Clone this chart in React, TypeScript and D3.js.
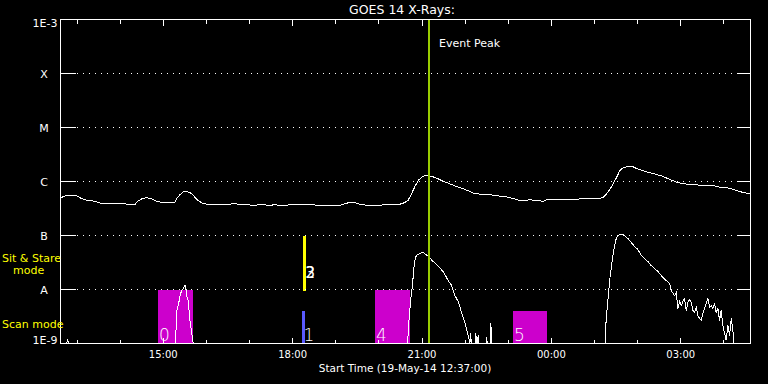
import React from "react";
import * as d3 from "d3";

// ---------- data ----------
const startISO = "2014-05-19T12:37";
const spanHours = 16;

const yLevels = [1e-3, 1e-4, 1e-5, 1e-6, 1e-7, 1e-8, 1e-9];
const yLabels = ["1E-3", "X", "M", "C", "B", "A", "1E-9"];

// GOES long channel (1-8 A), minutes after start, flux W/m^2
const longMinutes = [
  0, 8.5, 22.4, 29.4, 36.3, 47.9, 57.2, 89.6, 93.8, 103.5, 107.7, 113.3, 119.8, 126.7, 133.7,
  140.7, 149.4, 154.6, 159.2, 161.5, 166.1, 170.7, 177.7, 182.4, 187.0, 191.6, 198.5, 207.9,
  232.9, 238.1, 245.0, 249.6, 261.1, 265.9, 284.4, 289.0, 298.3, 307.6, 326.1, 333.1, 347.0,
  365.1, 388.8, 400.3, 409.6, 416.6, 425.9, 446.7, 449.0, 472.2, 479.2, 483.8, 488.5, 493.1,
  497.7, 502.4, 507.0, 511.6, 518.5, 525.5, 532.4, 541.8, 551.1, 560.3, 569.6, 576.6, 597.4,
  606.8, 620.7, 629.8, 639.2, 653.1, 671.6, 676.3, 694.8, 708.7, 736.6, 748.1, 755.1, 759.8,
  764.4, 769.0, 773.7, 778.3, 782.9, 787.6, 796.8, 801.6, 810.7, 820.0, 829.4, 838.5, 847.9,
  857.2, 866.4, 875.7, 889.6, 908.1, 917.4, 931.3, 940.7, 949.9, 960,
];
const longFlux = [
  5.0e-7, 5.5e-7, 5.5e-7, 4.8e-7, 4.5e-7, 4.3e-7, 3.9e-7, 3.9e-7, 3.75e-7, 3.75e-7, 4.3e-7,
  4.8e-7, 5.0e-7, 4.8e-7, 4.3e-7, 4.1e-7, 4.15e-7, 4.05e-7, 4.1e-7, 4.8e-7, 5.7e-7, 6.4e-7,
  6.4e-7, 6.0e-7, 5.1e-7, 4.45e-7, 3.9e-7, 3.75e-7, 3.75e-7, 3.86e-7, 3.86e-7, 3.71e-7,
  3.71e-7, 3.64e-7, 3.71e-7, 3.6e-7, 3.71e-7, 3.6e-7, 3.75e-7, 3.71e-7, 3.71e-7, 3.6e-7,
  3.6e-7, 4.04e-7, 4.04e-7, 3.8e-7, 3.64e-7, 3.64e-7, 3.8e-7, 3.8e-7, 4.08e-7, 4.51e-7,
  6.0e-7, 8.07e-7, 1.045e-6, 1.2e-6, 1.28e-6, 1.28e-6, 1.22e-6, 1.12e-6, 1.01e-6, 9.05e-7,
  8.07e-7, 7.33e-7, 6.53e-7, 5.92e-7, 5.74e-7, 5.43e-7, 5.21e-7, 4.84e-7, 4.4e-7, 4.58e-7,
  4.31e-7, 4.58e-7, 4.58e-7, 4.7e-7, 4.79e-7, 4.79e-7, 5.06e-7, 5.92e-7, 7.11e-7, 9.18e-7,
  1.19e-6, 1.6e-6, 1.8e-6, 1.87e-6, 1.87e-6, 1.74e-6, 1.58e-6, 1.45e-6, 1.35e-6, 1.24e-6,
  1.09e-6, 9.7e-7, 9.05e-7, 8.91e-7, 8.53e-7, 8.43e-7, 7.83e-7, 7.52e-7, 6.81e-7, 6.25e-7,
  5.92e-7,
];

// GOES short channel (0.5-4 A)
const shortMinutes = [
  0, 8.5, 9.9, 11.3, 160.1, 161.5, 164.7, 166.1, 168.5, 170.7, 173.1, 174.5, 175.4, 177.7,
  180.0, 182.4, 184.6, 482.9, 484.7, 487.1, 488.9, 490.7, 492.1, 493.5, 495.4, 499.1, 503.8,
  507.0, 511.6, 518.5, 525.5, 532.4, 539.4, 544.1, 548.7, 553.3, 558.0, 562.6, 567.2, 569.6,
  570.6, 571.6, 577.0, 577.9, 578.8, 580.2, 581.1, 582.0, 591.9, 592.8, 593.7, 597.9, 598.8,
  599.7, 757.8, 759.2, 761.6, 764.0, 766.2, 768.6, 770.9, 773.2, 775.5, 780.1, 784.8, 789.4,
  794.0, 798.8, 803.3, 807.9, 812.7, 817.2, 821.8, 826.6, 831.2, 838.1, 842.7, 847.4, 849.7,
  854.4, 856.6, 859.0, 861.4, 863.6, 866.0, 868.3, 870.5, 872.9, 875.3, 877.5, 879.9, 882.2,
  884.5, 886.8, 889.2, 891.4, 893.8, 896.1, 900.7, 903.1, 905.3, 907.7, 910.0, 912.3, 914.6,
  917.0, 919.2, 921.6, 924.0, 926.2, 928.6, 930.9, 933.2, 935.5, 936.9, 960,
];
const shortFlux = [
  6e-10, 6e-10, 1.19e-9, 6e-10, 6e-10, 3.8e-9, 5.8e-9, 7.4e-9, 9.6e-9, 1.04e-8, 1.19e-8,
  1.09e-8, 7.7e-9, 6.3e-9, 2.7e-9, 1.6e-9, 6e-10, 6e-10, 2.5e-9, 6.3e-9, 9.6e-9, 1.74e-8,
  2.8e-8, 3.75e-8, 4.3e-8, 4.6e-8, 4.9e-8, 4.6e-8, 4.1e-8, 3.3e-8, 2.7e-8, 2.15e-8, 1.47e-8,
  1.19e-8, 7.7e-9, 6.0e-9, 3.75e-9, 2.45e-9, 1.41e-9, 6e-10, 1.53e-9, 6e-10, 6e-10, 1.53e-9,
  6e-10, 6e-10, 1.41e-9, 6e-10, 6e-10, 1.29e-9, 6e-10, 6e-10, 2.35e-9, 6e-10, 6e-10, 2.9e-9,
  6.25e-9, 1.47e-8, 2.45e-8, 4.27e-8, 6.53e-8, 8.79e-8, 1.0e-7, 1.07e-7, 1.0e-7, 8.79e-8,
  7.41e-8, 6.25e-8, 5.51e-8, 4.27e-8, 3.75e-8, 3.3e-8, 2.78e-8, 2.45e-8, 2.15e-8, 1.67e-8,
  1.47e-8, 1.29e-8, 9.57e-9, 7.74e-9, 8.79e-9, 4.45e-9, 6.0e-9, 5.06e-9, 6.0e-9, 6.81e-9,
  4.08e-9, 5.74e-9, 6.53e-9, 5.74e-9, 4.08e-9, 3.75e-9, 4.64e-9, 3.3e-9, 2.9e-9, 2.67e-9,
  3.6e-9, 4.45e-9, 6.81e-9, 4.64e-9, 5.06e-9, 4.45e-9, 5.51e-9, 3.75e-9, 4.45e-9, 2.67e-9,
  4.08e-9, 2.15e-9, 1.53e-9, 1.14e-9, 2.15e-9, 1.41e-9, 2.9e-9, 1.74e-9, 6e-10, 6e-10,
];

// Scan mode observation bars
const scanLabels = ["0", "1", "4", "5"];
const scanKinds = ["raster", "single", "raster", "raster"];
const scanStart = ["2014-05-19T14:52", "2014-05-19T18:13", "2014-05-19T19:54", "2014-05-19T23:06"];
const scanEnd = ["2014-05-19T15:42", "2014-05-19T18:17", "2014-05-19T20:43", "2014-05-19T23:54"];
const scanTop = [1e-8, 4.08e-9, 1e-8, 4.08e-9];

// Sit & stare bars
const ssLabels = ["2", "3"];
const ssStart = ["2014-05-19T18:15", "2014-05-19T18:15"];
const ssEnd = ["2014-05-19T18:18", "2014-05-19T18:19"];
const ssTop = [1e-7, 4.08e-8];
const ssBase = 1e-8;

const eventPeak = "2014-05-19T21:09";
const titleText = "GOES 14 X-Rays:";
const xTitle = "Start Time (19-May-14 12:37:00)";

// ---------- chart ----------
const W = 768;
const H = 384;
const L = 60.5, R = 750.5, T = 19.5, B = 343.5;
const FONT = "DejaVu Sans, sans-serif";

const parse = d3.utcParse("%Y-%m-%dT%H:%M");

export default function App() {
  const t0 = parse(startISO) as Date;
  const t1 = d3.utcHour.offset(t0, spanHours);
  const x = d3.scaleUtc().domain([t0, t1]).range([L, R]);
  const y = d3.scaleLog().domain([1e-9, 1e-3]).range([B, T]).clamp(true);
  const tm = (m: number) => new Date(t0.getTime() + m * 60000);

  const longData = longMinutes.map((m, i) => [tm(m), longFlux[i]] as [Date, number]);
  const shortData = shortMinutes.map((m, i) => [tm(m), shortFlux[i]] as [Date, number]);
  const line = d3
    .line<[Date, number]>()
    .x((d) => x(d[0]))
    .y((d) => y(d[1]));

  const minorTicks = d3.utcHour.range(d3.utcHour.ceil(t0), t1);
  const majorTicks = minorTicks.filter((d) => d.getUTCHours() % 3 === 0);
  const fmt = d3.utcFormat("%H:%M");

  const magenta = "#cc00cc";
  const blue = "#5a5aff";
  const yellow = "#ffff00";
  const green = "#99cc00";
  const px = x(parse(eventPeak) as Date);

  return (
    <svg
      width={W}
      height={H}
      style={{ position: "absolute", left: 0, top: 0, display: "block" }}
      fontFamily={FONT}
    >
      <rect x={0} y={0} width={W} height={H} fill="#000" />

      {/* bars */}
      {scanLabels.map((lab, i) => {
        const x0 = x(parse(scanStart[i]) as Date);
        const x1 = x(parse(scanEnd[i]) as Date);
        const yt = y(scanTop[i]);
        return (
          <rect
            key={"s" + lab}
            x={x0}
            y={yt}
            width={x1 - x0}
            height={B - yt}
            fill={scanKinds[i] === "single" ? blue : magenta}
            shapeRendering="crispEdges"
          />
        );
      })}
      {ssLabels.map((lab, i) => {
        const x0 = x(parse(ssStart[i]) as Date);
        const x1 = x(parse(ssEnd[i]) as Date);
        const yt = y(ssTop[i]);
        return (
          <rect
            key={"y" + lab}
            x={x0}
            y={yt}
            width={x1 - x0}
            height={y(ssBase) - yt + 1}
            fill={yellow}
            shapeRendering="crispEdges"
          />
        );
      })}
      {scanLabels.map((lab, i) => (
        <text
          key={"sl" + lab}
          x={x(parse(scanStart[i]) as Date) + 1.5}
          y={B - 3}
          fill="#ffffff"
          fontSize={17}
          fontWeight={300}
        >
          {lab}
        </text>
      ))}
      {ssLabels.map((lab, i) => (
        <text
          key={"yl" + lab}
          x={x(parse(ssStart[i]) as Date) + 2}
          y={y(ssBase) - 12}
          fill="#ffffff"
          fontSize={15}
        >
          {lab}
        </text>
      ))}

      {/* curves */}
      <path d={line(longData) || ""} fill="none" stroke="#fff" strokeWidth={1} shapeRendering="crispEdges" />
      <path d={line(shortData) || ""} fill="none" stroke="#fff" strokeWidth={1} shapeRendering="crispEdges" />

      {/* event peak */}
      <line x1={px} x2={px} y1={T} y2={B} stroke={green} strokeWidth={2} shapeRendering="crispEdges" />
      <text x={px + 10.5} y={47} fill="#fff" fontSize={11}>
        Event Peak
      </text>

      {/* y grid + ticks */}
      {yLevels.map((v, i) => {
        const yy = y(v);
        return (
          <g key={"g" + i} shapeRendering="crispEdges">
            {i > 0 && i < yLevels.length - 1 && (
              <>
                <line x1={L} x2={L + 15} y1={yy} y2={yy} stroke="#fff" />
                <line x1={R - 14} x2={R} y1={yy} y2={yy} stroke="#fff" />
                <line x1={77} x2={735} y1={yy} y2={yy} stroke="#fff" strokeDasharray="1 5" />
              </>
            )}
          </g>
        );
      })}
      {yLevels.map((v, i) => {
        const yy = y(v);
        const isEnd = i === 0 || i === yLevels.length - 1;
        return (
          <text
            key={"yl" + i}
            x={isEnd ? 57.5 : 44}
            y={i === 0 ? yy + 7.5 : i === yLevels.length - 1 ? yy : yy + 4}
            textAnchor={isEnd ? "end" : "middle"}
            fill="#fff"
            fontSize={11}
          >
            {yLabels[i]}
          </text>
        );
      })}

      {/* frame */}
      <rect x={L} y={T} width={R - L} height={B - T} fill="none" stroke="#fff" shapeRendering="crispEdges" />

      {/* time ticks */}
      {minorTicks.map((d, i) => {
        const xx = x(d);
        const major = d.getUTCHours() % 3 === 0;
        const len = major ? 6 : 4;
        return (
          <g key={"t" + i} shapeRendering="crispEdges">
            <line x1={xx} x2={xx} y1={T} y2={T + len} stroke="#fff" />
            <line x1={xx} x2={xx} y1={B} y2={B - len} stroke="#fff" />
          </g>
        );
      })}
      {majorTicks.map((d, i) => (
        <text key={"tl" + i} x={x(d)} y={358} textAnchor="middle" fill="#fff" fontSize={10}>
          {fmt(d)}
        </text>
      ))}

      {/* titles */}
      <text x={402} y={14} textAnchor="middle" fill="#fff" fontSize={12.5}>
        {titleText}
      </text>
      <text x={405} y={371.5} textAnchor="middle" fill="#fff" fontSize={10.5}>
        {xTitle}
      </text>

      {/* mode labels */}
      <text x={2} y={262} fill={yellow} fontSize={11}>
        Sit &amp; Stare
      </text>
      <text x={13} y={274} fill={yellow} fontSize={11}>
        mode
      </text>
      <text x={2} y={327.5} fill={yellow} fontSize={11}>
        Scan mode
      </text>
    </svg>
  );
}
